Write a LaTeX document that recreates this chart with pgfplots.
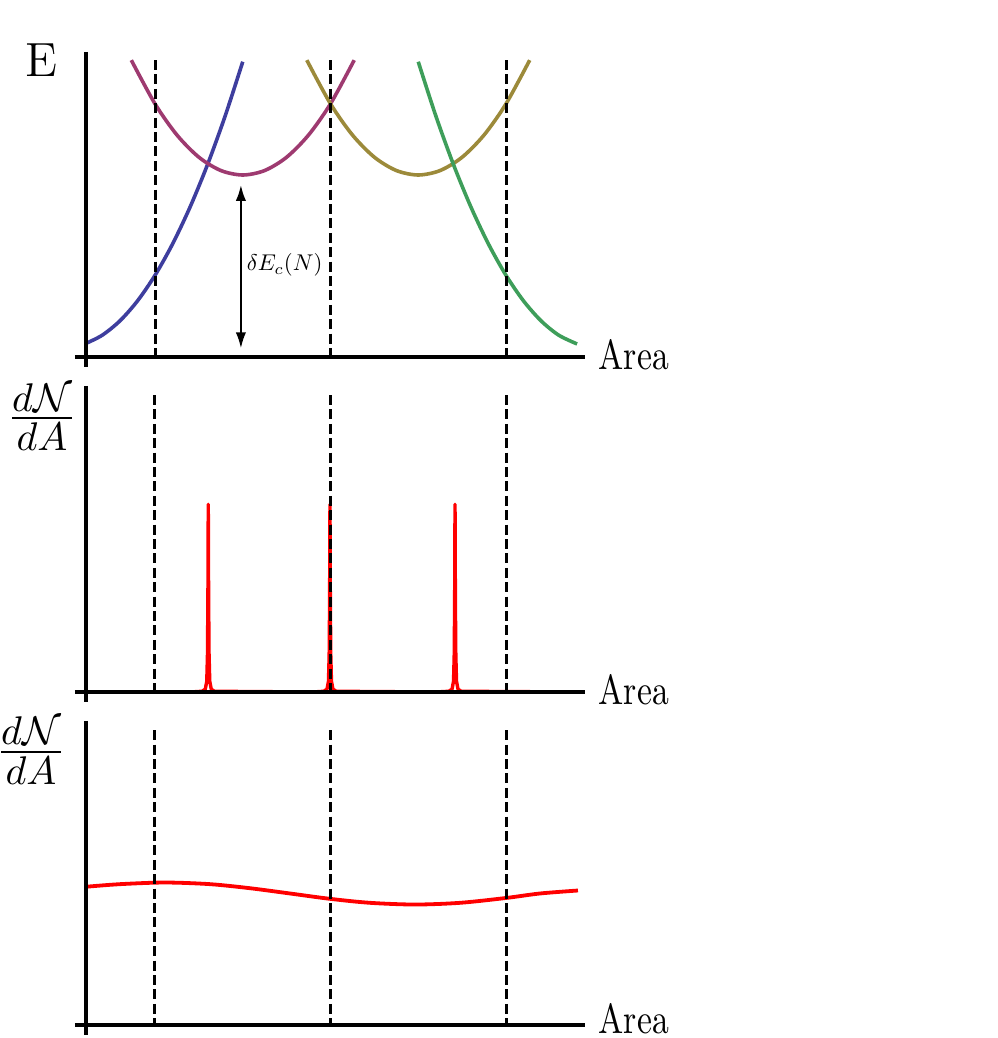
\documentclass[border=0pt]{standalone}
\usepackage{pgfplots}
\pgfplotsset{compat=1.18}
\usepackage{graphicx}
\usetikzlibrary{arrows.meta}

\definecolor{cblue}{RGB}{62,62,158}
\definecolor{cpurple}{RGB}{158,58,112}
\definecolor{colive}{RGB}{156,138,58}
\definecolor{cgreen}{RGB}{62,158,90}

\pgfplotsset{
  panel/.style={hide axis, clip=false, x=21.9375pt, y=17.8pt,
    xmin=0, xmax=6.2, ymin=-0.2, ymax=4.4, anchor=south west},
  curve/.style={line width=0.9pt, smooth, no markers},
}
\tikzset{
  vdash/.style={black, line width=0.75pt, dash pattern=on 2.5pt off 1.1pt},
  axisln/.style={black, line width=1pt},
}
\newcommand{\area}{\scalebox{0.8}[1]{\fontsize{10.5}{12}\selectfont Area}}
\newcommand{\dnda}{{\fontsize{10}{12}\selectfont\setlength{\arrayrulewidth}{0.5pt}%
  $\renewcommand{\arraystretch}{0.4}\begin{array}{@{}c@{}}d\mathcal{N}\\\hline\rule{0pt}{8pt}dA\end{array}$}}

\begin{document}
\begin{tikzpicture}
\useasboundingbox (0,0) rectangle (249.25pt,259.5pt);

% --- top panel: energies
\begin{axis}[panel, at={(16.8125pt,166.69pt)}]
  \addplot[curve, cblue] coordinates {
    (0.22,0.195) (0.4,0.307) (0.6,0.507) (0.8,0.787) (1.0,1.147)
    (1.2,1.587) (1.4,2.107) (1.6,2.707) (1.8,3.387) (2.0,4.147)};
  \addplot[curve, cpurple] coordinates {
    (0.73,4.169) (1.0,3.556) (1.25,3.118) (1.5,2.806) (1.75,2.619) (2.0,2.556)
    (2.25,2.619) (2.5,2.806) (2.75,3.118) (3.0,3.556) (3.27,4.169)};
  \addplot[curve, colive] coordinates {
    (2.73,4.169) (3.0,3.556) (3.25,3.118) (3.5,2.806) (3.75,2.619) (4.0,2.556)
    (4.25,2.619) (4.5,2.806) (4.75,3.118) (5.0,3.556) (5.27,4.169)};
  \addplot[curve, cgreen] coordinates {
    (4.0,4.147) (4.2,3.387) (4.4,2.707) (4.6,2.107) (4.8,1.587)
    (5.0,1.147) (5.2,0.787) (5.4,0.507) (5.6,0.307) (5.81,0.183)};
  \draw[vdash] (axis cs:1,4.171) -- (axis cs:1,0);
  \draw[vdash] (axis cs:3,4.171) -- (axis cs:3,0);
  \draw[vdash] (axis cs:5,4.171) -- (axis cs:5,0);
  \draw[axisln] (axis cs:0.219,4.284) -- (axis cs:0.219,-0.14);
  \draw[axisln] (axis cs:0.088,0) -- (axis cs:5.9,0);
  \draw[line width=0.5pt, {Latex[length=4pt,width=2.6pt]}-{Latex[length=4pt,width=2.6pt]}]
    (axis cs:1.979,2.416) -- (axis cs:1.979,0.122);
  \node[anchor=west, inner sep=0pt]
    at (axis cs:2.037,1.292) {\scalebox{0.57}{$\delta E_c(N)$}};
  \node[inner sep=0pt, font=\fontsize{12}{14}\selectfont] at (axis cs:-0.293,4.164) {E};
  \node[anchor=base west, inner sep=0pt] at (axis cs:6.048,-0.176) {\area};
\end{axis}

% --- middle panel: sharp peaks
\begin{axis}[panel, at={(16.8125pt,82.94pt)}]
  \addplot[red, line width=0.85pt, line join=round, no markers] coordinates {
    (0.22,0) (1.4,0)
    (1.537,0.01) (1.573,0.04) (1.590,0.15) (1.598,0.53) (1.603,1.32) (1.607,2.636)
    (1.611,1.32) (1.616,0.53) (1.624,0.15) (1.641,0.04) (1.677,0.01)
    (2.8,0)
    (2.924,0.01) (2.960,0.04) (2.977,0.15) (2.985,0.53) (2.990,1.32) (2.994,2.636)
    (2.998,1.32) (3.003,0.53) (3.011,0.15) (3.028,0.04) (3.064,0.01)
    (4.2,0)
    (4.349,0.01) (4.385,0.04) (4.402,0.15) (4.410,0.53) (4.415,1.32) (4.419,2.636)
    (4.423,1.32) (4.428,0.53) (4.436,0.15) (4.453,0.04) (4.489,0.01)
    (5.82,0)};
  \draw[vdash] (axis cs:1,4.171) -- (axis cs:1,0);
  \draw[vdash] (axis cs:3,4.171) -- (axis cs:3,0);
  \draw[vdash] (axis cs:5,4.171) -- (axis cs:5,0);
  \draw[axisln] (axis cs:0.219,4.30) -- (axis cs:0.219,-0.14);
  \draw[axisln] (axis cs:0.088,0) -- (axis cs:5.9,0);
  \node[inner sep=0pt] at (axis cs:-0.288,3.82) {\dnda};
  \node[anchor=base west, inner sep=0pt] at (axis cs:6.048,-0.176) {\area};
\end{axis}

% --- bottom panel: smooth density
\begin{axis}[panel, at={(16.8125pt,-0.31pt)}]
  \addplot[curve, red, line width=0.95pt] coordinates {
    (0.219,1.942) (0.601,1.978) (1.114,2.001) (1.627,1.978) (2.083,1.921)
    (2.539,1.847) (2.994,1.772) (3.450,1.716) (3.963,1.692) (4.476,1.716)
    (5.0,1.784) (5.387,1.847) (5.82,1.889)};
  \draw[vdash] (axis cs:1,4.14) -- (axis cs:1,0);
  \draw[vdash] (axis cs:3,4.14) -- (axis cs:3,0);
  \draw[vdash] (axis cs:5,4.14) -- (axis cs:5,0);
  \draw[axisln] (axis cs:0.219,4.27) -- (axis cs:0.219,-0.14);
  \draw[axisln] (axis cs:0.088,0) -- (axis cs:5.9,0);
  \node[inner sep=0pt] at (axis cs:-0.413,3.81) {\dnda};
  \node[anchor=base west, inner sep=0pt] at (axis cs:6.048,-0.125) {\area};
\end{axis}
\end{tikzpicture}
\end{document}
